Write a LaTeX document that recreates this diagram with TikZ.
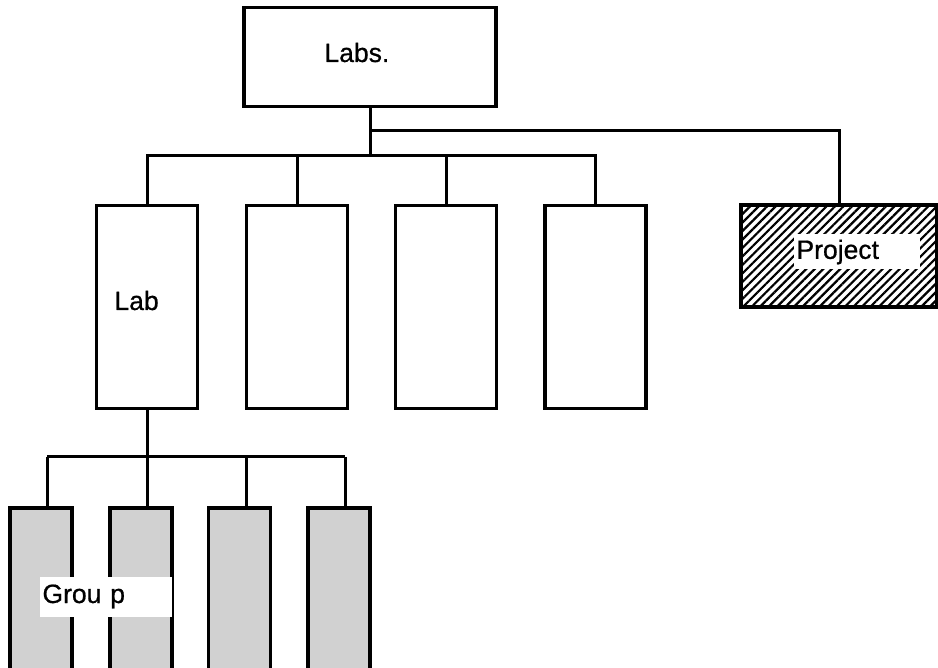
\documentclass[tikz,border=0pt]{standalone}
\usepackage{fontspec}
\setmainfont{Liberation Sans}[FakeBold=0.7]
\usetikzlibrary{patterns.meta}

\begin{document}
\begin{tikzpicture}[x=1pt, y=-1pt, line width=3pt, line join=miter,
    box/.style={draw, line width=3.4pt, inner sep=0pt},
    labbox/.style={box, minimum width=101pt, minimum height=203pt},
    grpbox/.style={box, fill=black!18, minimum width=62pt, minimum height=172pt},
    txt/.style={anchor=base west, inner sep=0pt},
    tag/.style={fill=white, inner xsep=3pt, inner ysep=0pt, anchor=north west},
    font=\fontsize{26.5}{30}\selectfont]
  \useasboundingbox (0,0) rectangle (938,668);
  \node[box, minimum width=252pt, minimum height=99pt] (labs) at (370,57) {};
  \node[txt] (labslbl) at (323,62) {Labs.};
  \node[labbox] (lab1) at (147,307) {};
  \node[labbox] (lab2) at (297,307) {};
  \node[labbox] (lab3) at (446,307) {};
  \node[labbox] (lab4) at (595.5,307) {};
  \node[txt] (lablbl) at (113,310) {Lab};
  \node[box, pattern={Lines[angle=45, distance=6pt, line width=2.2pt]},
        minimum width=196pt, minimum height=102pt] (proj) at (839,256) {};
  \node[tag, minimum height=35pt, text width=120pt] (projlbl) at (792,233) {Project};
  \node[grpbox] (grp1) at (41,594) {};
  \node[grpbox] (grp2) at (141,594) {};
  \node[grpbox] (grp3) at (239.5,594) {};
  \node[grpbox] (grp4) at (339,594) {};
  \node[tag, minimum height=40pt, text width=126pt] (grplbl) at (38,575) {Grou p};
  % buses
  \coordinate (busP) at (0,131);
  \coordinate (busL) at (0,156);
  \coordinate (busG) at (0,457);
  \draw (labs.south) -- (busL -| labs.south);
  \draw (busP -| labs.south) -| (proj.north);
  \draw (lab1.north) |- (busL -| lab4.north) -- (lab4.north);
  \foreach \n in {lab2,lab3}
    \draw (\n.north) -- (busL -| \n.north);
  \draw (lab1.south) -- (busG -| lab1.south);
  \coordinate (g1) at (47,457);
  \coordinate (g2) at (147,457);
  \coordinate (g3) at (246,457);
  \coordinate (g4) at (345,457);
  \draw (g1) -- (g4);
  \foreach \g/\n in {g1/grp1,g2/grp2,g3/grp3,g4/grp4}
    \draw (\g) -- (\g |- \n.north);
\end{tikzpicture}
\end{document}
